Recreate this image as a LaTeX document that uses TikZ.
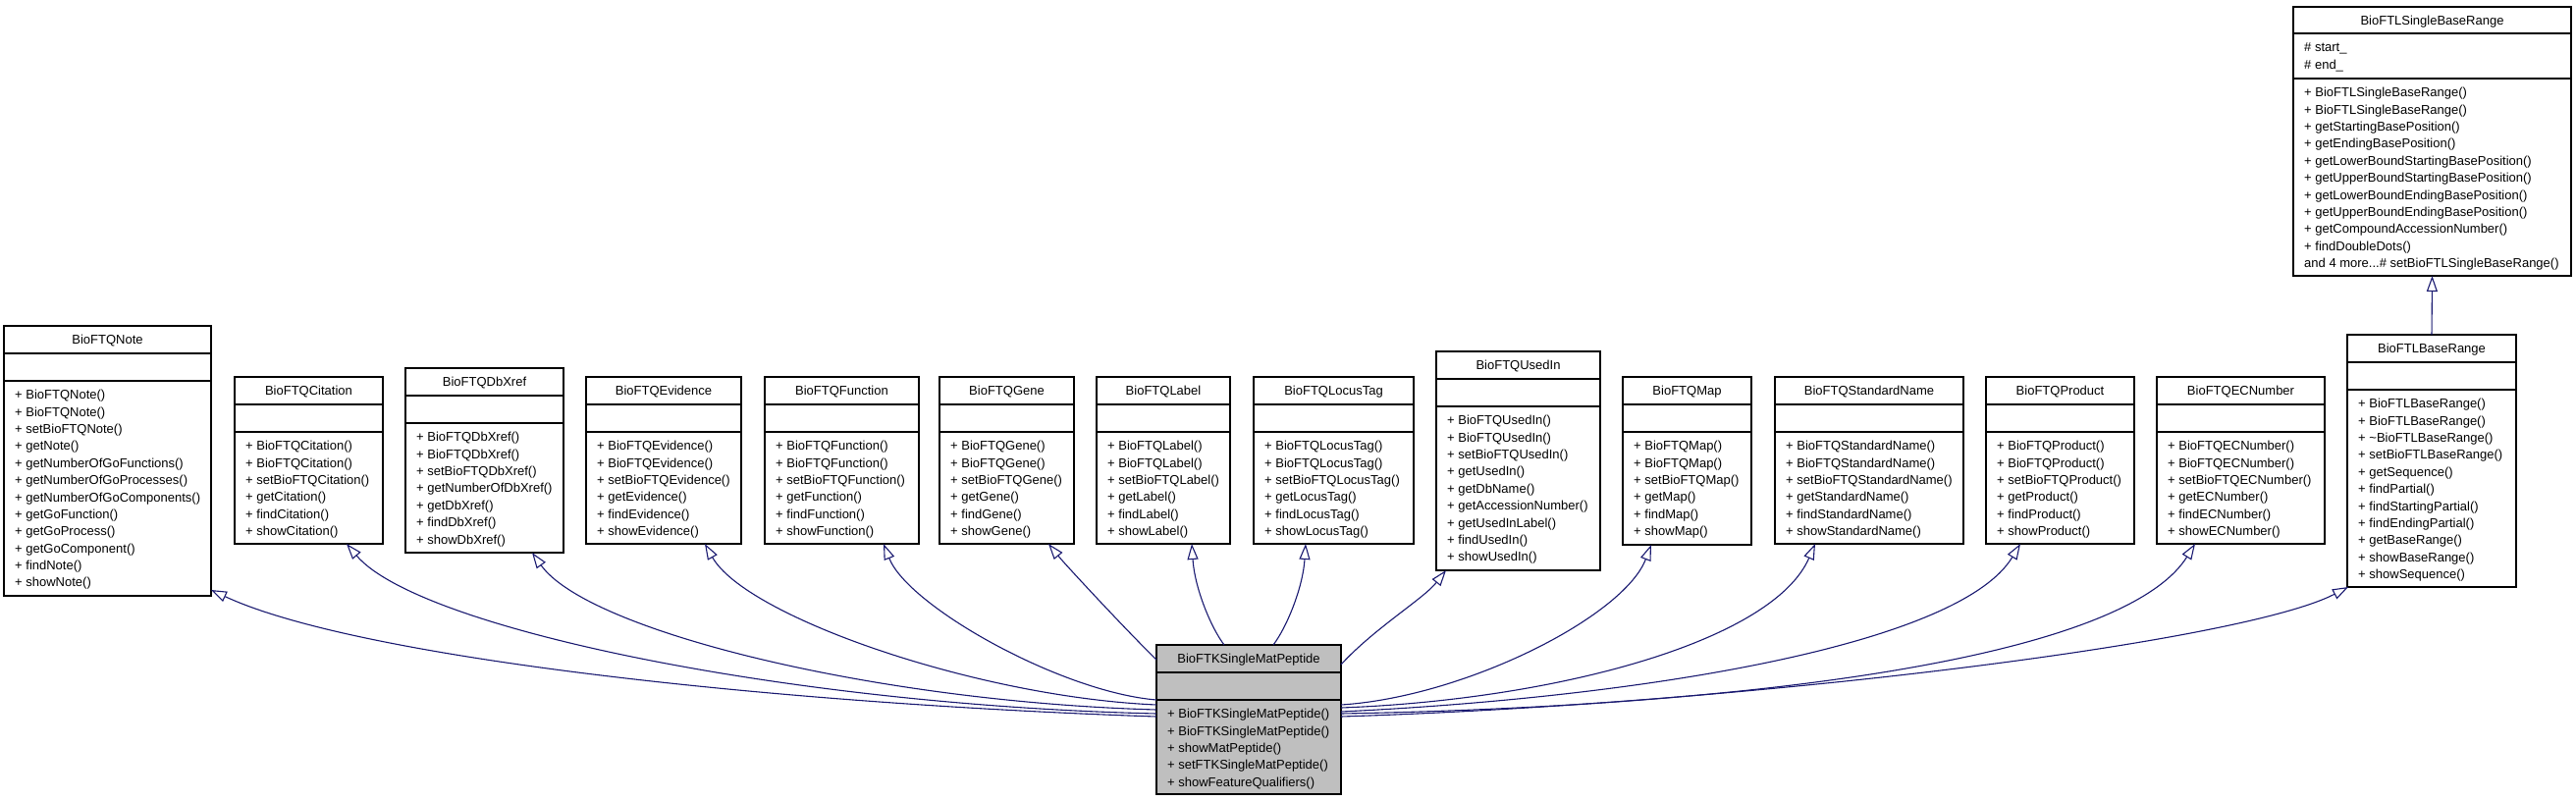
\documentclass[tikz,border=0pt]{standalone}
\usepackage{fontspec}
\setmainfont{Liberation Sans}
\usetikzlibrary{arrows.meta}
\definecolor{edgeblue}{HTML}{191970}
\definecolor{maingray}{HTML}{BFBFBF}
% name, left, right, top, div1, div2, bottom, title, fill
\newcommand{\umlframe}[9]{%
  \node[frame, fill=#9, minimum width={#3-#2}, minimum height={#7-#4}] (#1) at (#2,#4) {};
  \draw[divider] (#2,#5) -- (#3,#5) (#2,#6) -- (#3,#6);
  \node[titletext] (#1-title) at ({(#2+#3)/2},{(#4+#5)/2+4.7}) {#8};
}
\begin{document}
\begin{tikzpicture}[x=1pt,y=-1pt,
  frame/.style={draw=black, line width=1.1pt, anchor=north west, inner sep=0pt, outer sep=0pt},
  divider/.style={draw=black, line width=1.1pt},
  titletext/.style={anchor=base, inner sep=0pt, font=\fontsize{13}{17.35}\selectfont},
  listtext/.style={anchor=north west, inner sep=0pt, align=left, font=\fontsize{13}{17.35}\selectfont},
  inherit/.style={draw=edgeblue, line width=1.1pt, -{Triangle[length=16pt,width=11pt,fill=white]}}
]
\useasboundingbox (0,0) rectangle (2624,816);

% ---- classes ----
\umlframe{note}{4}{215}{332}{360}{388}{607}{BioFTQNote}{white}
\node[listtext] (note-ops) at (15,395.7) {\rule{0pt}{11pt}+ BioFTQNote()\\+ BioFTQNote()\\+ setBioFTQNote()\\+ getNote()\\+ getNumberOfGoFunctions()\\+ getNumberOfGoProcesses()\\+ getNumberOfGoComponents()\\+ getGoFunction()\\+ getGoProcess()\\+ getGoComponent()\\+ findNote()\\+ showNote()};

\umlframe{citation}{239}{390}{384}{412}{440}{554}{BioFTQCitation}{white}
\node[listtext] (citation-ops) at (250,447.7) {\rule{0pt}{11pt}+ BioFTQCitation()\\+ BioFTQCitation()\\+ setBioFTQCitation()\\+ getCitation()\\+ findCitation()\\+ showCitation()};

\umlframe{dbxref}{413}{574}{375}{403}{431}{563}{BioFTQDbXref}{white}
\node[listtext] (dbxref-ops) at (424,438.7) {\rule{0pt}{11pt}+ BioFTQDbXref()\\+ BioFTQDbXref()\\+ setBioFTQDbXref()\\+ getNumberOfDbXref()\\+ getDbXref()\\+ findDbXref()\\+ showDbXref()};

\umlframe{evidence}{597}{755}{384}{412}{440}{554}{BioFTQEvidence}{white}
\node[listtext] (evidence-ops) at (608,447.7) {\rule{0pt}{11pt}+ BioFTQEvidence()\\+ BioFTQEvidence()\\+ setBioFTQEvidence()\\+ getEvidence()\\+ findEvidence()\\+ showEvidence()};

\umlframe{function}{779}{936}{384}{412}{440}{554}{BioFTQFunction}{white}
\node[listtext] (function-ops) at (790,447.7) {\rule{0pt}{11pt}+ BioFTQFunction()\\+ BioFTQFunction()\\+ setBioFTQFunction()\\+ getFunction()\\+ findFunction()\\+ showFunction()};

\umlframe{gene}{957}{1094}{384}{412}{440}{554}{BioFTQGene}{white}
\node[listtext] (gene-ops) at (968,447.7) {\rule{0pt}{11pt}+ BioFTQGene()\\+ BioFTQGene()\\+ setBioFTQGene()\\+ getGene()\\+ findGene()\\+ showGene()};

\umlframe{label}{1117}{1253}{384}{412}{440}{554}{BioFTQLabel}{white}
\node[listtext] (label-ops) at (1128,447.7) {\rule{0pt}{11pt}+ BioFTQLabel()\\+ BioFTQLabel()\\+ setBioFTQLabel()\\+ getLabel()\\+ findLabel()\\+ showLabel()};

\umlframe{locustag}{1277}{1440}{384}{412}{440}{554}{BioFTQLocusTag}{white}
\node[listtext] (locustag-ops) at (1288,447.7) {\rule{0pt}{11pt}+ BioFTQLocusTag()\\+ BioFTQLocusTag()\\+ setBioFTQLocusTag()\\+ getLocusTag()\\+ findLocusTag()\\+ showLocusTag()};

\umlframe{usedin}{1463}{1630}{358}{386}{414}{581}{BioFTQUsedIn}{white}
\node[listtext] (usedin-ops) at (1474,421.7) {\rule{0pt}{11pt}+ BioFTQUsedIn()\\+ BioFTQUsedIn()\\+ setBioFTQUsedIn()\\+ getUsedIn()\\+ getDbName()\\+ getAccessionNumber()\\+ getUsedInLabel()\\+ findUsedIn()\\+ showUsedIn()};

\umlframe{map}{1653}{1784}{384}{412}{440}{555}{BioFTQMap}{white}
\node[listtext] (map-ops) at (1664,447.7) {\rule{0pt}{11pt}+ BioFTQMap()\\+ BioFTQMap()\\+ setBioFTQMap()\\+ getMap()\\+ findMap()\\+ showMap()};

\umlframe{stdname}{1808}{2000}{384}{412}{440}{554}{BioFTQStandardName}{white}
\node[listtext] (stdname-ops) at (1819,447.7) {\rule{0pt}{11pt}+ BioFTQStandardName()\\+ BioFTQStandardName()\\+ setBioFTQStandardName()\\+ getStandardName()\\+ findStandardName()\\+ showStandardName()};

\umlframe{product}{2023}{2174}{384}{412}{440}{554}{BioFTQProduct}{white}
\node[listtext] (product-ops) at (2034,447.7) {\rule{0pt}{11pt}+ BioFTQProduct()\\+ BioFTQProduct()\\+ setBioFTQProduct()\\+ getProduct()\\+ findProduct()\\+ showProduct()};

\umlframe{ecnumber}{2197}{2368}{384}{412}{440}{554}{BioFTQECNumber}{white}
\node[listtext] (ecnumber-ops) at (2208,447.7) {\rule{0pt}{11pt}+ BioFTQECNumber()\\+ BioFTQECNumber()\\+ setBioFTQECNumber()\\+ getECNumber()\\+ findECNumber()\\+ showECNumber()};

\umlframe{baserange}{2391}{2563}{341}{369}{397}{598}{BioFTLBaseRange}{white}
\node[listtext] (baserange-ops) at (2402,404.7) {\rule{0pt}{11pt}+ BioFTLBaseRange()\\+ BioFTLBaseRange()\\+ \textasciitilde BioFTLBaseRange()\\+ setBioFTLBaseRange()\\+ getSequence()\\+ findPartial()\\+ findStartingPartial()\\+ findEndingPartial()\\+ getBaseRange()\\+ showBaseRange()\\+ showSequence()};

\umlframe{sbr}{2336}{2619}{7}{34}{80}{281}{BioFTLSingleBaseRange}{white}
\node[listtext] (sbr-attr) at (2347,41.7) {\rule{0pt}{11pt}\# start\_\\\# end\_};
\node[listtext] (sbr-ops) at (2347,87.7) {\rule{0pt}{11pt}+ BioFTLSingleBaseRange()\\+ BioFTLSingleBaseRange()\\+ getStartingBasePosition()\\+ getEndingBasePosition()\\+ getLowerBoundStartingBasePosition()\\+ getUpperBoundStartingBasePosition()\\+ getLowerBoundEndingBasePosition()\\+ getUpperBoundEndingBasePosition()\\+ getCompoundAccessionNumber()\\+ findDoubleDots()\\and 4 more...\# setBioFTLSingleBaseRange()};

\umlframe{main}{1178}{1366}{657}{685}{713}{809}{BioFTKSingleMatPeptide}{maingray}
\node[listtext] (main-ops) at (1189,720.7) {\rule{0pt}{11pt}+ BioFTKSingleMatPeptide()\\+ BioFTKSingleMatPeptide()\\+ showMatPeptide()\\+ setFTKSingleMatPeptide()\\+ showFeatureQualifiers()};

% ---- inheritance connectors ----
\draw[inherit] ([yshift=-73pt]main.north west) .. controls (792.8,717) and (365,671) .. ([yshift=6pt]note.south east);
\draw[inherit] ([yshift=-70pt]main.north west) .. controls (806.75,718.4) and (427,641) .. ([xshift=114pt]citation.south west);
\draw[inherit] ([yshift=-66pt]main.north west) .. controls (891.8,715) and (599,643) .. ([xshift=129pt]dbxref.south west);
\draw[inherit] ([yshift=-61pt]main.north west) .. controls (994,710) and (759.4,627.8) .. ([xshift=121pt]evidence.south west);
\draw[inherit] ([yshift=-56pt]main.north west) .. controls (1080.7,705) and (925,617.6) .. ([xshift=121pt]function.south west);
\draw[inherit] ([yshift=-15pt]main.north west) .. controls (1150,645) and (1085,575) .. ([xshift=111pt]gene.south west);
\draw[inherit] ([xshift=69pt]main.north west) .. controls (1234,640) and (1217,600) .. ([xshift=97pt]label.south west);
\draw[inherit] ([xshift=119pt]main.north west) .. controls (1310,640) and (1327,600) .. ([xshift=53pt]locustag.south west);
\draw[inherit] ([yshift=-20pt]main.north east) .. controls (1400,640) and (1450,610) .. ([xshift=10pt]usedin.south west);
\draw[inherit] ([yshift=-61pt]main.north east) .. controls (1492.4,710) and (1654,628) .. ([xshift=29pt]map.south west);
\draw[inherit] ([yshift=-64pt]main.north east) .. controls (1583,713) and (1805.5,654) .. ([xshift=41pt]stdname.south west);
\draw[inherit] ([yshift=-68pt]main.north east) .. controls (1677.4,710) and (1996,656.6) .. ([xshift=35pt]product.south west);
\draw[inherit] ([yshift=-70pt]main.north east) .. controls (1757.5,720) and (2160,675) .. ([xshift=39pt]ecnumber.south west);
\draw[inherit] ([yshift=-73pt]main.north east) .. controls (1776,717) and (2282,655) .. ([xshift=1pt]baserange.south west);
\draw[inherit] (baserange.north) -- (sbr.south);
\end{tikzpicture}
\end{document}
